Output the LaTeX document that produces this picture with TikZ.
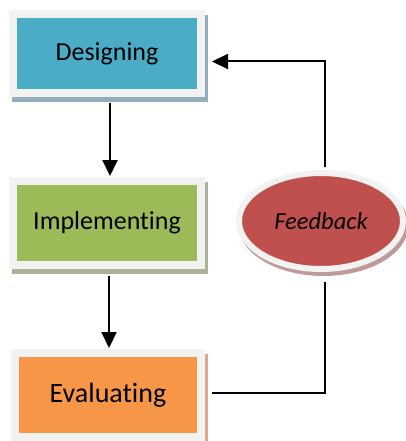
\documentclass[tikz,border=0pt]{standalone}
\usepackage{fontspec}
\setmainfont[Ligatures=NoCommon]{Carlito}
\usetikzlibrary{arrows.meta,shapes.geometric,backgrounds}
\definecolor{framegray}{HTML}{F2F2F2}
\definecolor{designcol}{HTML}{4BACC6}
\definecolor{implcol}{HTML}{9BBB59}
\definecolor{evalcol}{HTML}{F79646}
\definecolor{fbcol}{HTML}{C0504D}
\definecolor{designshadow}{HTML}{93ADBA}
\definecolor{implshadow}{HTML}{A9B395}
\definecolor{evalshadow}{HTML}{D9AA8A}
\definecolor{fbshadow}{HTML}{BE9A9A}
\tikzstyle{stage} = [rectangle, minimum width=188pt, inner sep=0pt, line width=8pt, draw=framegray, text=black]
\tikzstyle{flow} = [line width=2pt, black]
\tikzstyle{flowarrow} = [flow, -{Triangle[length=16pt,width=15pt]}]
\newcommand{\boxshadow}[2]{\fill[#2] ([shift={(3pt,-5pt)}]#1.north west) rectangle ([shift={(3pt,-5pt)}]#1.south east);}

\begin{document}
\begin{tikzpicture}[x=1pt,y=-1pt]
\useasboundingbox (0,0) rectangle (406,441);

 \node (design) [stage, fill=designcol, minimum height=79pt, font=\fontsize{26}{30}\selectfont] at (107,53.5) {Designing};
 \node (impl) [stage, fill=implcol, minimum height=84pt, font=\fontsize{26}{30}\selectfont] at (107,223) {Implementing};
 \node (eval) [stage, fill=evalcol, minimum width=186pt, minimum height=84pt, font=\fontsize{28}{32}\selectfont] at (108,395) {Evaluating};
 \node (fb) [ellipse, minimum width=164pt, minimum height=96pt, inner sep=0pt, line width=6pt, draw=framegray, fill=fbcol, font=\fontsize{24.5}{28}\selectfont\itshape] at (321,221) {Feedback};

 % shadows behind the boxes
 \begin{scope}[on background layer]
  \boxshadow{design}{designshadow}
  \boxshadow{impl}{implshadow}
  \boxshadow{eval}{evalshadow}
  \fill[fbshadow] ([shift={(2.5pt,-4pt)}]fb.center) ellipse [x radius=85pt, y radius=51pt];
 \end{scope}

 % arrows
 \draw[flowarrow] ([xshift=3pt,yshift=-6pt]design.south) -- ([xshift=3pt,yshift=1pt]impl.north);
 \draw[flowarrow] ([xshift=2pt,yshift=-7pt]impl.south) -- ([xshift=1pt,yshift=1pt]eval.north);
 \draw[flow] ([xshift=7pt,yshift=2pt]eval.east) -| ([xshift=4pt,yshift=-10pt]fb.south);
 \draw[flowarrow] ([xshift=4pt,yshift=3pt]fb.north) |- ([xshift=7pt,yshift=-8pt]design.east);
\end{tikzpicture}
\end{document}
